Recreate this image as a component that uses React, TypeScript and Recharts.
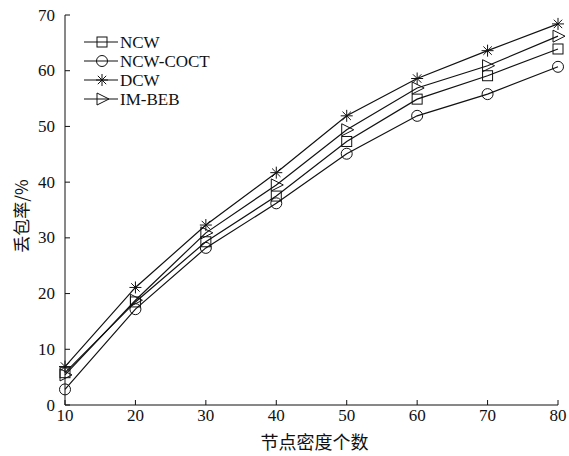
import React from "react";
import { LineChart, Line, XAxis, YAxis } from "recharts";

const densities = [10, 20, 30, 40, 50, 60, 70, 80];
const ncw = [5.8, 18.5, 29.3, 37.5, 47.3, 54.9, 59.1, 63.9];
const ncwCoct = [2.8, 17.2, 28.2, 36.2, 45.1, 51.9, 55.8, 60.7];
const dcw = [6.9, 21.1, 32.3, 41.7, 51.9, 58.6, 63.6, 68.4];
const imBeb = [5.4, 18.8, 30.9, 39.5, 49.4, 56.9, 60.9, 66.2];
const yTicks = [0, 10, 20, 30, 40, 50, 60, 70];

const data = densities.map((x, i) => ({
  x,
  ncw: ncw[i],
  ncwCoct: ncwCoct[i],
  dcw: dcw[i],
  imBeb: imBeb[i],
}));

const SERIF = '"Liberation Serif", "Times New Roman", serif';
const CJK = '"Noto Sans CJK SC", sans-serif';

type Kind = "square" | "circle" | "star" | "triangle";

const series: { key: string; name: string; kind: Kind }[] = [
  { key: "ncw", name: "NCW", kind: "square" },
  { key: "ncwCoct", name: "NCW-COCT", kind: "circle" },
  { key: "dcw", name: "DCW", kind: "star" },
  { key: "imBeb", name: "IM-BEB", kind: "triangle" },
];

function Marker({ kind, cx, cy }: { kind: Kind; cx: number; cy: number }) {
  const s = { stroke: "#111", strokeWidth: 1, fill: "none" };
  if (kind === "square") return <rect x={cx - 5} y={cy - 5} width={10} height={10} {...s} />;
  if (kind === "circle") return <circle cx={cx} cy={cy} r={5.5} {...s} />;
  if (kind === "triangle")
    return <polygon points={`${cx - 5},${cy - 6} ${cx + 7},${cy} ${cx - 5},${cy + 6}`} {...s} />;
  const r = 6;
  return (
    <g {...s}>
      <line x1={cx - r} y1={cy} x2={cx + r} y2={cy} />
      <line x1={cx} y1={cy - r} x2={cx} y2={cy + r} />
      <line x1={cx - r * 0.7} y1={cy - r * 0.7} x2={cx + r * 0.7} y2={cy + r * 0.7} />
      <line x1={cx - r * 0.7} y1={cy + r * 0.7} x2={cx + r * 0.7} y2={cy - r * 0.7} />
    </g>
  );
}

function makeDot(kind: Kind) {
  return (props: any) => {
    const { cx, cy, index } = props;
    if (cx == null || cy == null) return <g key={index} />;
    return (
      <g key={index}>
        <Marker kind={kind} cx={cx} cy={cy} />
      </g>
    );
  };
}

function XTick(props: any) {
  const { x, y, payload } = props;
  return (
    <text x={x} y={y + 7} textAnchor="middle" dominantBaseline="hanging" fontFamily={SERIF} fontSize={17} fill="#111">
      {payload.value}
    </text>
  );
}

function YTick(props: any) {
  const { x, y, payload } = props;
  return (
    <text x={x} y={y} textAnchor="end" dominantBaseline="central" fontFamily={SERIF} fontSize={17} fill="#111">
      {payload.value}
    </text>
  );
}

function XTitle(props: any) {
  const { x, width } = props.viewBox;
  return (
    <text x={x + width / 2 + 3} y={441} textAnchor="middle" dominantBaseline="central" fontFamily={CJK} fontSize={18} fill="#111">
      节点密度个数
    </text>
  );
}

function YTitle() {
  return (
    <text x={20} y={216} transform="rotate(-90 20 216)" textAnchor="middle" dominantBaseline="central" fontFamily={CJK} fontSize={17} fill="#111">
      丢包率/%
    </text>
  );
}

// legend drawn as an overlay in the top-left of the plot
function LegendBox() {
  return (
    <svg width={160} height={80} style={{ position: "absolute", left: 80, top: 34 }}>
      {series.map((s, i) => {
        const y = 8 + i * 19;
        return (
          <g key={s.key}>
            <line x1={4} y1={y} x2={38} y2={y} stroke="#111" strokeWidth={1.2} />
            <Marker kind={s.kind} cx={22} cy={y} />
            <text x={40} y={y + 6} fontFamily={SERIF} fontSize={17} fill="#111">
              {s.name}
            </text>
          </g>
        );
      })}
    </svg>
  );
}

export default function App() {
  return (
    <div style={{ position: "absolute", left: 0, top: 0, width: 569, height: 456, background: "#fff", fontFamily: SERIF }}>
      <LineChart width={569} height={456} data={data} margin={{ top: 15, right: 11, bottom: 0, left: 0 }}>
        <XAxis
          dataKey="x"
          type="number"
          domain={[10, 80]}
          ticks={densities}
          tickSize={-5}
          height={51}
          stroke="#111"
          tick={<XTick />}
          label={<XTitle />}
        />
        <YAxis
          type="number"
          domain={[0, 70]}
          ticks={yTicks}
          tickSize={-5}
          tickMargin={15}
          width={65}
          stroke="#111"
          tick={<YTick />}
          label={<YTitle />}
        />
        {series.map((s) => (
          <Line
            key={s.key}
            dataKey={s.key}
            name={s.name}
            stroke="#111"
            strokeWidth={1.2}
            dot={makeDot(s.kind)}
            activeDot={false}
            isAnimationActive={false}
          />
        ))}
      </LineChart>
      <LegendBox />
    </div>
  );
}
